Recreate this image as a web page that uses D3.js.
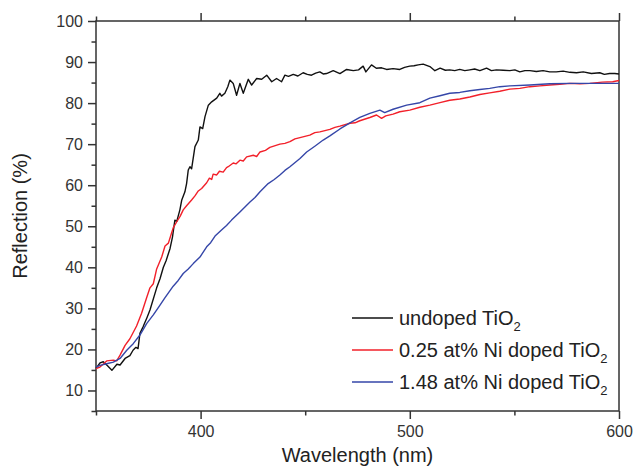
<!DOCTYPE html>
<html>
<head>
<meta charset="utf-8">
<script src="https://cdn.jsdelivr.net/npm/d3@7"></script>
<style>
  body { margin: 0; background: #fff; }
</style>
</head>
<body>
<div id="chart"></div>
<script>
const width = 634;
const height = 473;

// wavelength (nm), reflection (%)
const undoped = [
  [350, 15.4], [351.9, 16.7], [353.5, 17.0], [355.5, 16.0], [357.6, 14.9], [360, 16.4],
  [361.5, 16.2], [363.9, 17.8], [366.2, 18.5], [367.7, 19.8], [369.1, 20.5], [370.1, 20.2],
  [371, 23.9], [372.5, 25.5], [374.4, 27.8], [375.8, 29.6], [379, 35.0], [380.6, 37.2],
  [382.2, 40.0], [383.5, 41.6], [385.4, 44.6], [386.6, 47.5], [387.7, 51.5], [388.6, 51.2],
  [390.1, 54.0], [391, 56.4], [392.5, 58.4], [393.3, 60.4], [394.1, 63.7], [394.9, 64.5],
  [395.7, 64.0], [397.3, 69.4], [398.9, 71],
  [399.7, 74.2], [401, 73.8], [402.1, 76.7], [403.7, 79.5], [405.3, 80.3], [407.7, 81.2],
  [409.2, 82.4], [410, 81.7], [411.6, 82.4], [413, 84], [414, 85.6], [415.6, 84.8],
  [417.2, 81.9], [418.8, 84.8], [420.4, 82.4], [422.8, 85.8], [424.4, 84.4], [426.8, 86],
  [429.2, 85.8], [431.6, 86.8], [434, 85.2], [436.3, 86], [438.7, 85.2], [440.3, 86.8],
  [442, 86.5], [444.3, 87], [446.5, 86.6], [449, 87.4], [451, 87.0], [453, 86.8], [455, 87.3],
  [457, 87.6], [458.6, 87.1], [460.2, 87.2], [463.4, 87.9], [466.6, 87.2], [469.8, 88.2],
  [473, 87.9], [475.5, 88.1], [477.7, 89], [479, 87.6], [481.7, 89.3], [484, 88.5],
  [486.5, 88.6], [488.9, 88.2], [492, 88.4], [495.2, 88.2], [497.5, 88.7], [500, 89],
  [502, 89.1], [504, 89.3], [506.4, 89.5], [509.6, 88.9], [512, 87.9], [514.5, 88.5],
  [517, 88.0], [519.1, 88.1], [521.5, 87.9], [523.9, 88.2], [526.3, 87.9], [528.7, 88.1],
  [531, 88.3], [533.5, 87.9], [536.7, 88.5], [539, 87.9], [541.4, 88.1], [544.6, 88.0],
  [547.8, 87.9], [550.2, 88.1], [552.6, 87.6], [555, 87.9], [557.4, 87.9], [560.5, 87.7],
  [563.7, 87.9], [566.9, 87.6], [570, 87.6], [573.3, 87.8], [576.5, 87.5], [579.7, 87.4],
  [582.9, 87.6], [586.8, 87.2], [590.8, 87.4], [593, 87.0], [595.5, 87.2], [598, 87.2],
  [600, 87.1]
];

const ni025 = [
  [350, 15.3], [351.9, 15.7], [355.1, 17.2], [358.3, 17.4], [359.9, 17.2], [361.5, 18.6],
  [363.9, 21.0], [366.2, 22.6], [369.4, 25.7], [371.8, 28.8], [374.2, 32.6], [375.8, 35.0],
  [377.4, 36.0], [379, 39.6], [381.4, 42.5], [383, 45.2], [384.6, 45.9], [386.2, 48.5],
  [386.9, 49.6], [388.6, 51.1], [390.2, 52.4], [391.7, 54.0], [393.3, 55.0], [395.7, 56.4],
  [397.3, 57.4], [398.9, 58.6], [400.5, 59.2], [402.9, 60.6], [404.2, 61.7], [405.3, 61.4],
  [406, 62.7], [407.7, 62.5], [409, 63.4], [410.8, 63.2], [412.4, 64.3], [413.2, 64.5],
  [415.6, 65.4], [417, 65.2], [418.8, 66.1], [420.4, 65.9], [422, 66.9], [425.2, 67.3],
  [426.8, 67.0], [428.4, 68.1], [431, 68.5], [433.1, 69.2], [437.9, 70], [440.3, 70.2],
  [442.7, 70.6], [445.1, 71.3], [447.5, 71.6], [452.2, 72.2], [454.6, 72.8], [457, 73],
  [461.8, 73.6], [464.2, 74.1], [466.6, 74.4], [471.4, 75.1], [473.8, 75.2], [476.1, 75.7],
  [480.9, 76.5], [484.1, 77.1], [486.5, 76.3], [488.5, 76.9], [492, 77.3], [495.2, 77.9],
  [500, 78.3], [504.8, 79], [509.6, 79.5], [514.4, 80.1], [519.1, 80.7], [523.9, 81.0],
  [528.7, 81.5], [533.5, 82.1], [538.2, 82.5], [543, 82.9], [547.8, 83.4], [552.6, 83.6],
  [557.4, 84], [562.2, 84.2], [566.9, 84.4], [571.7, 84.6], [576.5, 84.8], [581.3, 84.7],
  [586, 84.8], [592, 85.1], [597, 85.2], [600, 85.5]
];

const ni148 = [
  [350, 15.7], [351.9, 16.1], [355.1, 16.5], [358.3, 16.9], [361.5, 17.8], [364.7, 19.8],
  [367.8, 21.4], [371, 23.5], [374.2, 26.3], [377.4, 28.4], [380.6, 30.8], [383, 32.6],
  [386.9, 35.4], [389.3, 36.8], [391.7, 38.5], [394.1, 39.6], [396.5, 40.9], [399.7, 42.5],
  [402.9, 45], [404.8, 46.0], [406.9, 47.6], [410, 49.1], [412.4, 50.2], [414.8, 51.5],
  [418.8, 53.5], [421.2, 54.7], [423.6, 55.9], [426, 57.0], [428.4, 58.4], [432.3, 60.4],
  [435.2, 61.4], [437.9, 62.5], [440.3, 63.6], [442.7, 64.5], [447.5, 66.5], [450.7, 68.1],
  [454.6, 69.5], [458.6, 71], [461.8, 72.0], [466.6, 73.7], [471.4, 75.2], [476.1, 76.5],
  [480.9, 77.5], [485.7, 78.3], [488, 77.7], [492, 78.5], [498.5, 79.5], [504.8, 80.1],
  [509.6, 81.2], [514.4, 81.8], [519.1, 82.4], [523.9, 82.6], [528.7, 83], [533.5, 83.3],
  [538.2, 83.6], [543, 84.0], [547.8, 84.2], [557.4, 84.4], [566.9, 84.7], [576.5, 84.8],
  [588, 84.8], [600, 84.8]
];

const seriesNames = ['undoped TiO', '0.25 at% Ni doped TiO', '1.48 at% Ni doped TiO'];
const seriesColors = ['#111111', '#f2202a', '#3546a8'];
const seriesData = [undoped, ni025, ni148];

const xMajor = [400, 500, 600];
const xMinor = [350, 450, 550];
const yMajor = [10, 20, 30, 40, 50, 60, 70, 80, 90, 100];
const yMinor = [5, 15, 25, 35, 45, 55, 65, 75, 85, 95];

const plotLeft = 96, plotRight = 619, plotTop = 21, plotBottom = 411;
const axisColor = '#333';
const font = 'Liberation Sans, Arial, sans-serif';

const svg = d3.select('#chart').append('svg')
  .attr('width', width).attr('height', height);

const x = d3.scaleLinear().domain([350, 600]).range([plotLeft, plotRight]);
const y = d3.scaleLinear().domain([5, 100]).range([plotBottom, plotTop]);

function styleAxis(g, labels) {
  g.select('.domain').remove();
  g.selectAll('line').attr('stroke', axisColor).attr('stroke-width', 1.5);
  g.selectAll('text')
    .attr('font-family', font)
    .attr('font-size', '16px')
    .attr('fill', axisColor);
  if (!labels) g.selectAll('text').remove();
}

// bottom axis
svg.append('g').attr('transform', `translate(0,${plotBottom})`)
  .call(d3.axisBottom(x).tickValues(xMajor).tickSize(8).tickSizeOuter(0).tickPadding(7))
  .call(g => styleAxis(g, true));
svg.append('g').attr('transform', `translate(0,${plotBottom})`)
  .call(d3.axisBottom(x).tickValues(xMinor).tickSize(4.5).tickSizeOuter(0))
  .call(g => styleAxis(g, false));

// top axis
svg.append('g').attr('transform', `translate(0,${plotTop})`)
  .call(d3.axisTop(x).tickValues(xMajor).tickSize(8).tickSizeOuter(0))
  .call(g => styleAxis(g, false));
svg.append('g').attr('transform', `translate(0,${plotTop})`)
  .call(d3.axisTop(x).tickValues(xMinor).tickSize(4.5).tickSizeOuter(0))
  .call(g => styleAxis(g, false));

// left axis
svg.append('g').attr('transform', `translate(${plotLeft},0)`)
  .call(d3.axisLeft(y).tickValues(yMajor).tickSize(8).tickSizeOuter(0).tickPadding(5))
  .call(g => styleAxis(g, true));
svg.append('g').attr('transform', `translate(${plotLeft},0)`)
  .call(d3.axisLeft(y).tickValues(yMinor).tickSize(4.5).tickSizeOuter(0))
  .call(g => styleAxis(g, false));

// frame
svg.append('rect')
  .attr('x', plotLeft).attr('y', plotTop)
  .attr('width', plotRight - plotLeft).attr('height', plotBottom - plotTop)
  .attr('fill', 'none')
  .attr('stroke', axisColor)
  .attr('stroke-width', 1.5);

// curves
const line = d3.line()
  .x(d => x(d[0]))
  .y(d => y(d[1]));

seriesData.forEach((data, i) => {
  svg.append('path')
    .datum(data)
    .attr('d', line)
    .attr('fill', 'none')
    .attr('stroke', seriesColors[i])
    .attr('stroke-width', 1.4)
    .attr('stroke-linejoin', 'round');
});

// axis titles
svg.append('text')
  .attr('x', (plotLeft + plotRight) / 2)
  .attr('y', 462)
  .attr('text-anchor', 'middle')
  .attr('font-family', font)
  .attr('font-size', '20px')
  .attr('fill', '#222')
  .text('Wavelength (nm)');

svg.append('text')
  .attr('transform', `translate(27,${(plotTop + plotBottom) / 2}) rotate(-90)`)
  .attr('text-anchor', 'middle')
  .attr('font-family', font)
  .attr('font-size', '20px')
  .attr('fill', '#222')
  .text('Reflection (%)');

// legend
const legend = svg.append('g').attr('transform', 'translate(352,318)');
seriesNames.forEach((name, i) => {
  const row = legend.append('g').attr('transform', `translate(0,${i * 32})`);
  row.append('line')
    .attr('x1', 0).attr('x2', 41)
    .attr('y1', 0).attr('y2', 0)
    .attr('stroke', seriesColors[i])
    .attr('stroke-width', 1.4);
  const t = row.append('text')
    .attr('x', 47).attr('y', 7)
    .attr('font-family', font)
    .attr('font-size', '20px')
    .attr('fill', '#222');
  t.append('tspan').text(name);
  t.append('tspan').attr('dy', 6).attr('font-size', '13px').text('2');
});
</script>
</body>
</html>
